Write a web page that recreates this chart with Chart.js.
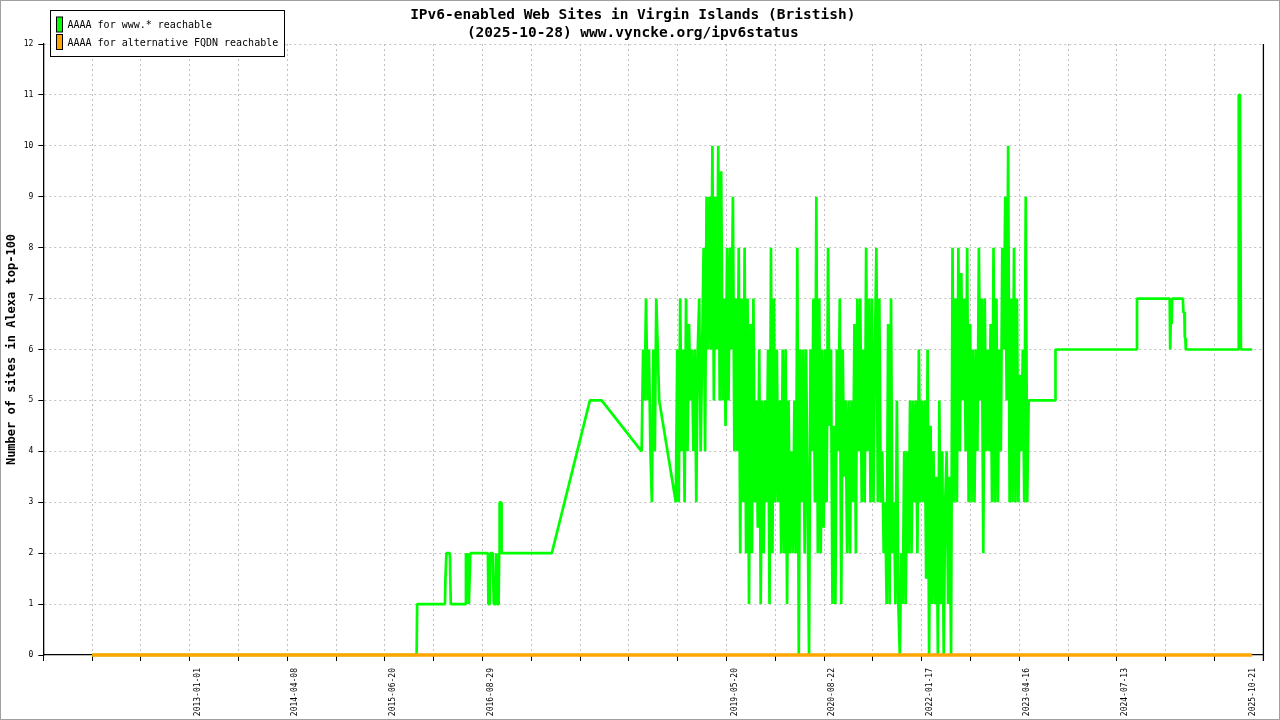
<!DOCTYPE html>
<html>
<head>
<meta charset="utf-8">
<title>IPv6-enabled Web Sites in Virgin Islands (Bristish)</title>
<script src="https://cdn.jsdelivr.net/npm/chart.js@4.4.1/dist/chart.umd.min.js"></script>
<style>
  html, body { margin: 0; padding: 0; background: #fff; }
  #wrap { width: 1280px; height: 720px; }
</style>
</head>
<body>
<div id="wrap"><canvas id="chart" width="1280" height="720"></canvas></div>
<script>
// --- data (x = sample row, 100 rows between two grid lines) ---
const TITLE_LINES = ['IPv6-enabled Web Sites in Virgin Islands (Bristish)', '(2025-10-28) www.vyncke.org/ipv6status'];
const Y_TITLE = 'Number of sites in Alexa top-100';
const SERIES_LABELS = ['AAAA for www.* reachable', 'AAAA for alternative FQDN reachable'];

const tickRows  = [200, 400, 600, 800, 1300, 1500, 1700, 1900, 2100, 2363];
const tickDates = ['2013-01-01', '2014-04-08', '2015-06-20', '2016-08-29', '2019-05-20',
                   '2020-08-22', '2022-01-17', '2023-04-16', '2024-07-13', '2025-10-21'];

const wwwRows = [
  0, 665, 666, 723, 724, 726, 733, 735, 765, 766, 768, 770, 772, 775, 811, 812, 815, 816, 821, 823,
  827, 828, 830, 833, 834, 835, 838, 839, 942, 1020, 1044,
  1126, 1129, 1132, 1135, 1138, 1141, 1144, 1147, 1150, 1153, 1156, 1159, 1162, 1196,
  1199, 1202, 1205, 1208, 1211, 1214, 1217, 1220, 1223, 1226, 1229, 1232, 1235, 1238, 1241, 1244,
  1247, 1250, 1253, 1256, 1259, 1262, 1265, 1268, 1271, 1274, 1277, 1280, 1283, 1286, 1289, 1292,
  1295, 1298, 1301, 1304, 1307, 1310, 1313, 1316, 1319, 1322, 1325, 1328, 1331, 1334, 1337, 1340,
  1343, 1346, 1349, 1352, 1355, 1358, 1361, 1364, 1367, 1370, 1373, 1376, 1379, 1382, 1385, 1388,
  1391, 1394, 1397, 1400, 1403, 1406, 1409, 1412, 1415, 1418, 1421, 1424, 1427, 1430, 1433, 1436,
  1439, 1442, 1445, 1448, 1451, 1454, 1457, 1460, 1463, 1466, 1469, 1472, 1475, 1478, 1481, 1484,
  1487, 1490, 1493, 1496, 1499, 1502, 1505, 1508, 1511, 1514, 1517, 1520, 1523, 1526, 1529, 1532,
  1535, 1538, 1541, 1544, 1547, 1550, 1553, 1556, 1559, 1562, 1565, 1568, 1571, 1574, 1577, 1580,
  1583, 1586, 1589, 1592, 1595, 1598, 1601, 1604, 1607, 1610, 1613, 1616, 1619, 1622, 1625, 1628,
  1631, 1634, 1637, 1640, 1643, 1646, 1649, 1652, 1655, 1658, 1661, 1664, 1667, 1670, 1673, 1676,
  1679, 1682, 1685, 1688, 1691, 1694, 1697, 1700, 1703, 1706, 1709, 1712, 1715, 1718, 1721, 1724,
  1727, 1730, 1733, 1736, 1739, 1742, 1745, 1748, 1751, 1754, 1757, 1760, 1763, 1766, 1769, 1772,
  1775, 1778, 1781, 1784, 1787, 1790, 1793, 1796, 1799, 1802, 1805, 1808, 1811, 1814, 1817, 1820,
  1823, 1826, 1829, 1832, 1835, 1838, 1841, 1844, 1847, 1850, 1853, 1856, 1859, 1862, 1865, 1868,
  1871, 1874, 1877, 1880, 1883, 1886, 1889, 1892, 1895, 1898, 1901, 1904, 1907, 1910, 1913, 1916,
  1919, 1973, 1974, 2140, 2141, 2208, 2209, 2211, 2212, 2213, 2235, 2236, 2238, 2239, 2240, 2241,
  2348, 2349, 2350, 2352, 2354, 2377
];
const wwwSites = [
  0, 0, 1, 1, 1.5, 2, 2, 1, 1, 2, 1.5, 2, 1, 2, 2, 1, 1, 2, 2, 1,
  1, 2, 1, 1, 2, 3, 3, 2, 2, 5, 5,
  4, 6, 5, 7, 5, 6, 4, 3, 6, 4, 7, 6, 5, 3,
  6, 3, 7, 4, 6, 3, 7, 4, 6.5, 5, 6, 4, 6, 3, 6, 7,
  4, 6, 8, 4, 9, 6, 9, 6, 10, 5, 9, 6, 10, 5, 9.5, 5,
  7, 4.5, 8, 5, 8, 6, 9, 4, 7, 4, 8, 2, 7, 3, 8, 2,
  7, 1, 6.5, 2, 7, 3, 5, 2.5, 6, 1, 5, 2, 5, 3, 6, 1,
  8, 2, 7, 3, 6, 3, 5, 2, 6, 2, 6, 1, 5, 2, 4, 2,
  5, 2, 8, 0, 6, 3, 6, 2, 6, 3, 0, 6, 4, 7, 3, 9,
  2, 7, 2, 6, 2.5, 6, 3, 8, 4.5, 6, 1, 4.5, 1, 6, 4, 7,
  1, 6, 3.5, 5, 2, 5, 2, 5, 3, 6.5, 2, 7, 4, 7, 3, 6,
  3, 8, 4, 7, 3, 7, 3, 6, 8, 3, 7, 3, 4, 2, 3, 1,
  6.5, 1, 7, 2, 3, 1, 5, 1, 0, 2, 1, 4, 1, 4, 2, 5,
  2, 5, 3, 5, 2, 6, 3, 5, 3, 5, 1.5, 6, 0, 4.5, 1, 4,
  1, 3.5, 0, 5, 1, 4, 0, 3, 4, 1, 3.5, 0, 8, 3, 7, 3,
  8, 4, 7.5, 5, 7, 4, 8, 3, 6.5, 3, 6, 3, 6, 4, 8, 5,
  7, 2, 7, 4, 6, 4, 6.5, 3, 8, 3, 7, 3, 6, 4, 8, 6,
  9, 5, 10, 3, 7, 3, 8, 3, 7, 3, 5.5, 4, 6, 3, 9, 3,
  5, 5, 6, 6, 7, 7, 6, 7, 6.5, 7, 7, 6.73, 6.73, 6.23, 6.23, 6,
  6, 8.5, 11, 11, 6, 6
];

const fqdnRows  = [0, 2377];
const fqdnSites = [0, 0];

const GREEN  = '#00ff00';
const ORANGE = '#ffa500';
const MONO   = "'DejaVu Sans Mono', monospace";

const toPoints = (rows, vals) => rows.map((x, i) => ({ x, y: vals[i] }));

// legend box in the top-left corner, drawn over the grid
const legendBox = {
  id: 'legendBox',
  afterDraw(chart) {
    const { ctx } = chart;
    ctx.save();
    ctx.fillStyle = '#fff';
    ctx.fillRect(50.5, 10.5, 234, 46);
    ctx.strokeStyle = '#000';
    ctx.lineWidth = 1;
    ctx.strokeRect(50.5, 10.5, 234, 46);
    ctx.font = `10px ${MONO}`;
    ctx.textAlign = 'left';
    ctx.textBaseline = 'middle';
    chart.data.datasets.forEach((ds, i) => {
      const y = 17 + i * 17.5;
      ctx.fillStyle = ds.borderColor;
      ctx.fillRect(56.5, y, 6, 15);
      ctx.strokeRect(56.5, y, 6, 15);
      ctx.fillStyle = '#000';
      ctx.fillText(ds.label, 67.5, y + 8.5);
    });
    ctx.restore();
  }
};

// right axis line + thin grey picture frame
const frame = {
  id: 'frame',
  afterDraw(chart) {
    const { ctx, chartArea: a } = chart;
    ctx.save();
    ctx.strokeStyle = '#000';
    ctx.lineWidth = 1.3;
    ctx.beginPath();
    ctx.moveTo(a.right, a.top);
    ctx.lineTo(a.right, a.bottom + 6);
    ctx.stroke();
    ctx.strokeStyle = '#a0a0a0';
    ctx.lineWidth = 1;
    ctx.strokeRect(0.5, 0.5, chart.width - 1, chart.height - 1);
    ctx.restore();
  }
};

const offGrid = c => c.tick && c.tick.value % 100 !== 0;

new Chart(document.getElementById('chart'), {
  type: 'line',
  plugins: [legendBox, frame],
  data: {
    datasets: [
      {
        label: SERIES_LABELS[0],
        data: toPoints(wwwRows, wwwSites),
        borderColor: GREEN,
        backgroundColor: GREEN,
        borderWidth: 2.7,
        borderJoinStyle: 'bevel',
        pointRadius: 0,
        tension: 0,
        clip: 4,
        order: 2
      },
      {
        label: SERIES_LABELS[1],
        data: toPoints(fqdnRows, fqdnSites),
        borderColor: ORANGE,
        backgroundColor: ORANGE,
        borderWidth: 3.7,
        pointRadius: 0,
        tension: 0,
        clip: 4,
        order: 1
      }
    ]
  },
  options: {
    responsive: false,
    animation: false,
    devicePixelRatio: 1,
    normalized: true,
    layout: { padding: { left: 0, right: 14.5, top: 0, bottom: 0 } },
    plugins: {
      legend: { display: false },
      tooltip: { enabled: false },
      title: {
        display: true,
        text: TITLE_LINES,
        color: '#000',
        font: { family: MONO, size: 14.5, weight: 'bold', lineHeight: 1.29 },
        padding: { top: 5.6, bottom: 1 }
      }
    },
    scales: {
      x: {
        type: 'linear',
        min: -100,
        max: 2400,
        afterFit(s) { s.height = 65; },
        afterBuildTicks(s) {
          const ticks = [];
          for (let v = -100; v <= 2400; v += 100) ticks.push({ value: v });
          ticks.push({ value: tickRows[tickRows.length - 1] });
          ticks.sort((a, b) => a.value - b.value);
          s.ticks = ticks;
        },
        border: { color: '#000', width: 1.3, dash: [2, 3], z: -1 },
        grid: {
          color: c => offGrid(c) ? 'rgba(0,0,0,0)' : '#c0c0c0',
          tickColor: c => offGrid(c) ? 'rgba(0,0,0,0)' : '#000',
          tickBorderDash: [],
          tickLength: 6,
          lineWidth: 1,
          z: -1
        },
        ticks: {
          autoSkip: false,
          maxRotation: 90,
          minRotation: 90,
          labelOffset: 8,
          padding: 7,
          color: '#000',
          font: { family: MONO, size: 8 },
          callback(value) {
            const i = tickRows.indexOf(value);
            return i >= 0 ? tickDates[i] : '';
          }
        }
      },
      y: {
        min: 0,
        max: 12,
        afterFit(s) { s.width = 43.3; },
        border: { color: '#000', width: 1.3, dash: [2, 3], z: -1 },
        grid: {
          color: '#c0c0c0',
          tickColor: '#000',
          tickBorderDash: [],
          tickLength: 5,
          lineWidth: 1,
          z: -1
        },
        ticks: {
          stepSize: 1,
          padding: 5,
          color: '#000',
          font: { family: MONO, size: 8 }
        },
        title: {
          display: true,
          text: Y_TITLE,
          color: '#000',
          font: { family: MONO, size: 12, weight: 'bold' },
          padding: { top: 5, bottom: 0 }
        }
      }
    }
  }
});
</script>
</body>
</html>
